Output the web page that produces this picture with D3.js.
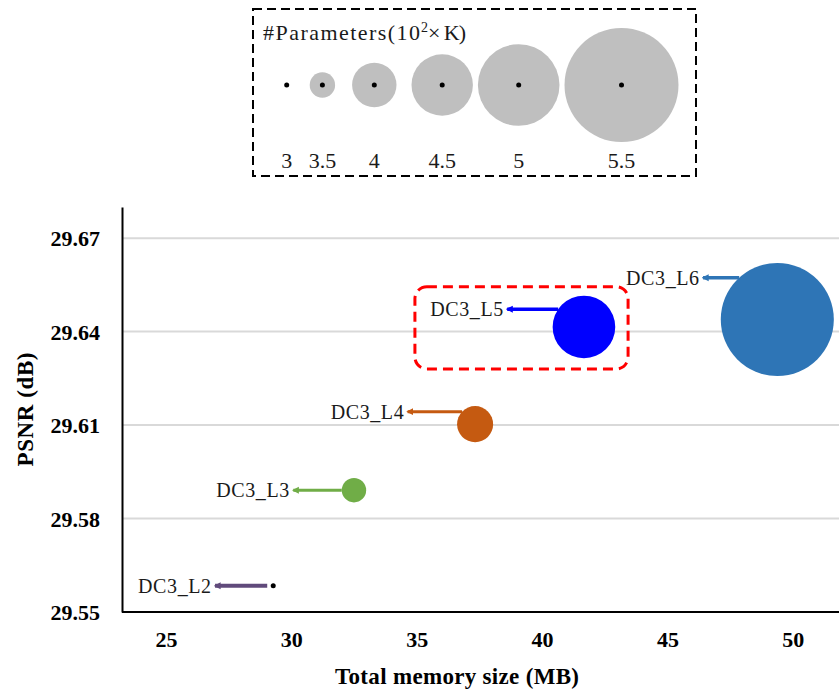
<!DOCTYPE html>
<html>
<head>
<meta charset="utf-8">
<script src="https://cdn.jsdelivr.net/npm/d3@7"></script>
<style>
  html, body { margin: 0; padding: 0; background: #fff; }
  svg { display: block; }
</style>
</head>
<body>
<svg id="chart" width="839" height="692"></svg>
<script>
// ---------------- data ----------------
const categories   = ["DC3_L2", "DC3_L3", "DC3_L4", "DC3_L5", "DC3_L6"];
const memorySize   = [29.28, 32.50, 37.33, 41.67, 49.38];      // MB
const psnrValues   = [29.5584, 29.5891, 29.6103, 29.6415, 29.6439]; // dB
const paramValues  = [3.0, 3.48, 3.78, 4.53, 5.485];          // 10^2 x K
const labelMemory  = [26.96, 30.08, 34.64, 38.61, 46.42];      // annotation arrow tip (MB)
const labelPsnr    = [29.5584, 29.5891, 29.6143, 29.6472, 29.6573]; // annotation arrow tip (dB)
const xTicks       = [25, 30, 35, 40, 45, 50];
const yTicks       = [29.55, 29.58, 29.61, 29.64, 29.67];
const legendValues = [3, 3.5, 4, 4.5, 5, 5.5];
const highlightMemory = [34.93, 43.43];
const highlightPsnr   = [29.628, 29.6544];

// ---------------- styles ----------------
const seriesColors = ["#604a7b", "#70ad47", "#c55a11", "#0000ff", "#2e75b6"];
const arrowWidths  = [4, 3, 3, 3.5, 3.5];
const legendRadii  = [0, 12.7, 22.2, 30.7, 40.8, 57];
const legendGaps   = [23, 17, 15, 5, 5];
const serif = "'Liberation Serif', 'DejaVu Serif', serif";

const svg = d3.select("#chart");
svg.append("rect").attr("width", 839).attr("height", 692).attr("fill", "#fff");

const x = d3.scaleLinear().domain([23.25, 52]).range([122, 843]);
const y = d3.scaleLinear().domain([29.55, 29.68]).range([612, 207]);
const r = d3.scaleLinear().domain(legendValues).range(legendRadii).clamp(true);

// gridlines
svg.append("g").selectAll("line")
  .data(yTicks.filter(t => t > 29.551))
  .join("line")
  .attr("x1", x.range()[0]).attr("x2", 839)
  .attr("y1", d => y(d)).attr("y2", d => y(d))
  .attr("stroke", "#d9d9d9").attr("stroke-width", 2);

// axes
const xAxis = d3.axisBottom(x).tickValues(xTicks).tickSize(0).tickPadding(0);
const gx = svg.append("g").attr("transform", `translate(0,${y(29.55)})`).call(xAxis);
gx.select(".domain").attr("stroke", "#000").attr("stroke-width", 2)
  .attr("d", `M${x.range()[0]},0H839`);
gx.selectAll("text").attr("font-family", serif).attr("font-size", 22)
  .attr("font-weight", "bold").attr("fill", "#000").attr("dy", 0).attr("y", 35);

const yAxis = d3.axisLeft(y).tickValues(yTicks).tickFormat(d3.format(".2f")).tickSize(0).tickPadding(22);
const gy = svg.append("g").attr("transform", `translate(${x.range()[0]},0)`).call(yAxis);
gy.select(".domain").attr("stroke", "#000").attr("stroke-width", 2);
gy.selectAll("text").attr("font-family", serif).attr("font-size", 22)
  .attr("font-weight", "bold").attr("fill", "#000").attr("dy", "0.35em");

// axis titles
svg.append("text")
  .attr("x", 457).attr("y", 684)
  .attr("text-anchor", "middle")
  .attr("font-family", serif).attr("font-size", 23).attr("font-weight", "bold")
  .attr("textLength", 244).attr("lengthAdjust", "spacing")
  .text("Total memory size (MB)");
svg.append("text")
  .attr("transform", `translate(33,${(y(29.55) + y(29.68)) / 2}) rotate(-90)`)
  .attr("text-anchor", "middle")
  .attr("font-family", serif).attr("font-size", 23).attr("font-weight", "bold")
  .attr("textLength", 114).attr("lengthAdjust", "spacing")
  .text("PSNR (dB)");

// highlight box
svg.append("rect")
  .attr("x", x(highlightMemory[0])).attr("y", y(highlightPsnr[1]))
  .attr("width", x(highlightMemory[1]) - x(highlightMemory[0]))
  .attr("height", y(highlightPsnr[0]) - y(highlightPsnr[1]))
  .attr("rx", 12).attr("ry", 12)
  .attr("fill", "none").attr("stroke", "#ff0000").attr("stroke-width", 3)
  .attr("stroke-dasharray", "10,6");

// arrow markers
const defs = svg.append("defs");
seriesColors.forEach((c, i) => {
  defs.append("marker")
    .attr("id", "arrow" + i)
    .attr("viewBox", "0 0 10 10")
    .attr("refX", 8).attr("refY", 5)
    .attr("markerWidth", 7).attr("markerHeight", 8)
    .attr("markerUnits", "userSpaceOnUse")
    .attr("orient", "auto")
    .append("path").attr("d", "M0,0 L10,5 L0,10 Z").attr("fill", c);
});

const points = categories.map((c, i) => ({
  name: c, mem: memorySize[i], psnr: psnrValues[i], p: paramValues[i],
  lm: labelMemory[i], lp: labelPsnr[i], color: seriesColors[i], w: arrowWidths[i], i
}));

// bubbles
svg.append("g").selectAll("circle")
  .data(points.filter(d => r(d.p) > 3))
  .join("circle")
  .attr("cx", d => x(d.mem)).attr("cy", d => y(d.psnr))
  .attr("r", d => r(d.p)).attr("fill", d => d.color);
svg.append("g").selectAll("circle")
  .data(points.filter(d => r(d.p) <= 3))
  .join("circle")
  .attr("cx", d => x(d.mem)).attr("cy", d => y(d.psnr))
  .attr("r", 2.5).attr("fill", "#000");

// annotation arrows
svg.append("g").selectAll("line")
  .data(points)
  .join("line")
  .attr("x1", d => {
    const rad = r(d.p), dy = y(d.lp) - y(d.psnr);
    const dx = rad > Math.abs(dy) ? Math.sqrt(rad * rad - dy * dy) : 0;
    return x(d.mem) - Math.max(dx, 6);
  })
  .attr("y1", d => y(d.lp))
  .attr("x2", d => x(d.lm)).attr("y2", d => y(d.lp))
  .attr("stroke", d => d.color).attr("stroke-width", d => d.w)
  .attr("marker-end", d => `url(#arrow${d.i})`);

svg.append("g").selectAll("text")
  .data(points)
  .join("text")
  .attr("x", d => x(d.lm) - 4).attr("y", d => y(d.lp) + 7)
  .attr("text-anchor", "end")
  .attr("font-family", serif).attr("font-size", 20).attr("fill", "#1a1a1a")
  .attr("textLength", 73).attr("lengthAdjust", "spacing")
  .text(d => d.name);

// ---------------- legend ----------------
const lg = svg.append("g");
lg.append("rect")
  .attr("x", 253).attr("y", 9).attr("width", 443).attr("height", 167)
  .attr("fill", "none").attr("stroke", "#000").attr("stroke-width", 2)
  .attr("stroke-dasharray", "9,5");
const title = lg.append("text")
  .attr("y", 40)
  .attr("font-family", serif).attr("font-size", 22).attr("fill", "#1a1a1a");
title.append("tspan").attr("x", 263).attr("textLength", 157).attr("lengthAdjust", "spacing").text("#Parameters(10");
title.append("tspan").attr("x", 421).attr("font-size", 14).attr("dy", -8).text("2");
title.append("tspan").attr("x", 428).attr("dy", 8).attr("textLength", 38).attr("lengthAdjust", "spacing").text("\u00d7 K)");

const legendX = [];
legendValues.forEach((v, i) => {
  if (i === 0) legendX.push(286.7);
  else legendX.push(legendX[i - 1] + r(legendValues[i - 1]) + r(v) + legendGaps[i - 1]);
});
const legendY = 85;
lg.selectAll("circle.lb")
  .data(legendValues)
  .join("circle").attr("class", "lb")
  .attr("cx", (d, i) => legendX[i]).attr("cy", legendY)
  .attr("r", d => r(d)).attr("fill", "#bfbfbf");
lg.selectAll("circle.ld")
  .data(legendValues)
  .join("circle").attr("class", "ld")
  .attr("cx", (d, i) => legendX[i]).attr("cy", legendY)
  .attr("r", 2.5).attr("fill", "#000");
lg.selectAll("text.ll")
  .data(legendValues)
  .join("text").attr("class", "ll")
  .attr("x", (d, i) => legendX[i]).attr("y", 168)
  .attr("text-anchor", "middle")
  .attr("font-family", serif).attr("font-size", 22).attr("fill", "#1a1a1a")
  .text(d => d);
</script>
</body>
</html>
